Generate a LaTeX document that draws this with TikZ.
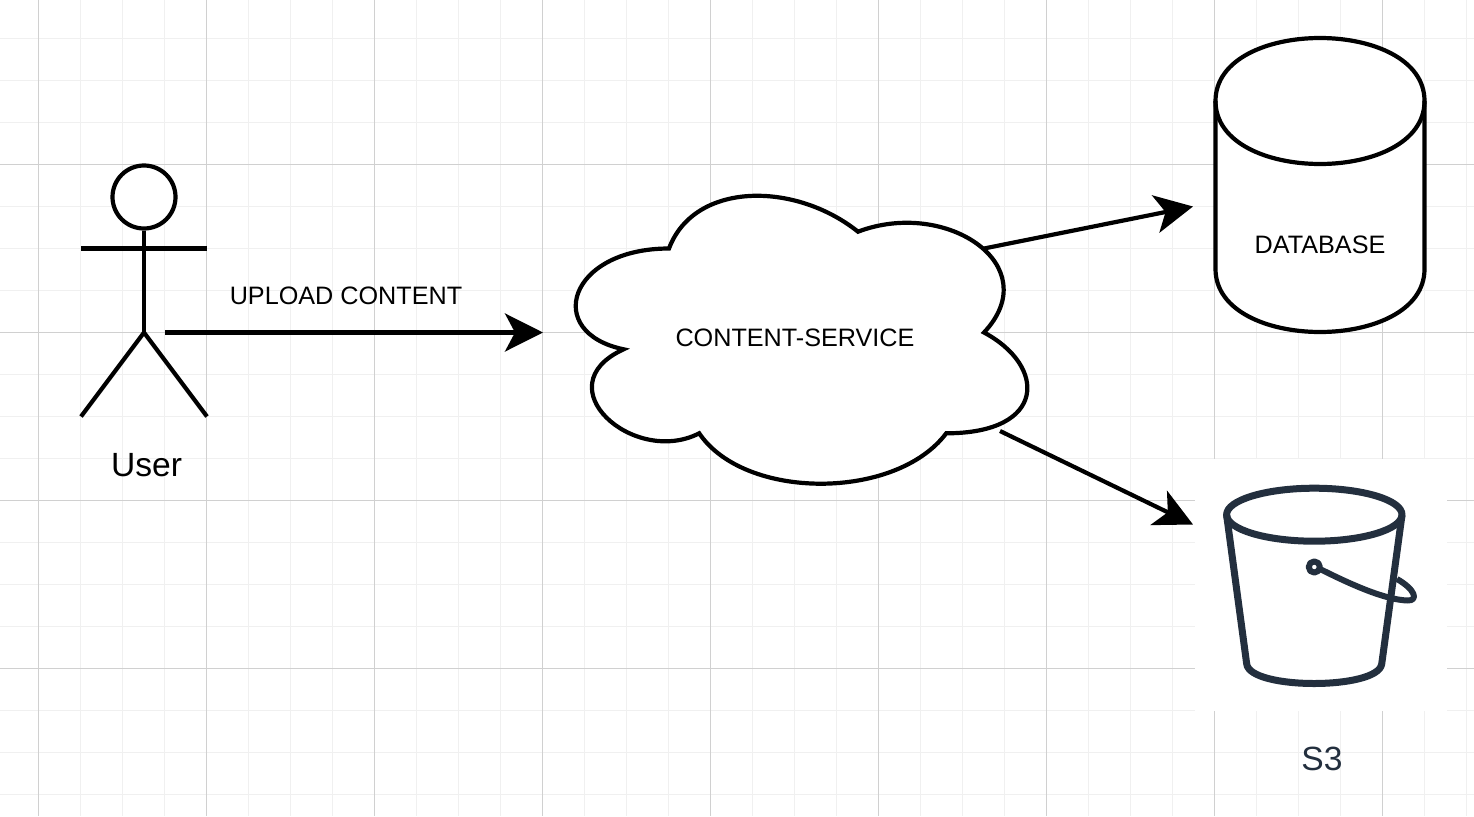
\documentclass[tikz,border=0pt]{standalone}
\usepackage{fontspec}
\setmainfont{Liberation Sans}
\usepackage{xcolor}
\usetikzlibrary{arrows.meta, positioning}
\definecolor{gridmajor}{HTML}{D0D0D0}
\definecolor{gridminor}{HTML}{F0F0F0}
\definecolor{awsink}{HTML}{232F3E}
\tikzset{
  minorline/.style={draw=gridminor, line width=1.4pt},
  majorline/.style={draw=gridmajor, line width=1.1pt},
  shapeline/.style={draw=black, line width=4.2pt, fill=white, line join=miter},
  limbline/.style={draw=black, line width=4.2pt},
  bucketline/.style={draw=awsink, line width=7pt, line join=round},
  flow/.style={-{Stealth[length=38pt,width=38pt,inset=10pt]}, draw=black, line width=4.2pt},
  label/.style={font=\fontsize{25.2pt}{30pt}\selectfont, inner sep=0pt, align=center},
  biglabel/.style={font=\fontsize{33.6pt}{40pt}\selectfont, inner sep=0pt, align=center},
}

\begin{document}
\begin{tikzpicture}[x=1pt, y=-1pt]
  \useasboundingbox (0,0) rectangle (1474,816);
  \fill[white] (0,0) rectangle (1474,816);

  % grid
  \foreach \k in {0,...,34}
    \draw[minorline] ({38.5+42*\k},0) -- ({38.5+42*\k},816);
  \foreach \k in {0,...,18}
    \draw[minorline] (0,{38.5+42*\k}) -- (1474,{38.5+42*\k});
  \foreach \k in {0,...,8}
    \draw[majorline] ({38.5+168*\k},0) -- ({38.5+168*\k},816);
  \foreach \k in {0,...,3}
    \draw[majorline] (0,{164.5+168*\k}) -- (1474,{164.5+168*\k});

  % user
  \node[circle, shapeline, minimum size=63pt, inner sep=0pt] (userhead) at (144,197) {};
  \node[minimum size=42pt, inner sep=0pt, outer sep=0pt] (user) at (144,332.5) {};
  \coordinate (armleft) at (81,248.5);
  \coordinate (armright) at (207,248.5);
  \coordinate (footleft) at (81,416.5);
  \coordinate (footright) at (207,416.5);
  \draw[limbline] (userhead.south) -- (user.center);
  \draw[limbline] (armleft) -- (armright);
  \draw[limbline] (footleft) -- (user.center) -- (footright);
  \node[biglabel] (username) at (146.5,464.8) {User};

  % content service
  \draw[shapeline] (669,248.5)
    .. controls (568.2,248.5) and (543,332.5) .. (623.6,349.3)
    .. controls (543,386.2) and (633.7,466.9) .. (699.2,433.3)
    .. controls (744.6,500.5) and (895.8,500.5) .. (946.2,433.3)
    .. controls (1047,433.3) and (1047,366.1) .. (984,332.5)
    .. controls (1047,265.3) and (946.2,198.1) .. (858,231.7)
    .. controls (795,181.3) and (694.2,181.3) .. (669,248.5) -- cycle;
  \node[label, minimum width=504pt, minimum height=336pt, outer sep=0pt,
        text height=28pt, text depth=0pt] (service) at (795,332.5) {CONTENT-SERVICE};

  % database
  \draw[shapeline] (1215.5,101) .. controls (1215.5,17) and (1424.5,17) .. (1424.5,101)
    -- (1424.5,269) .. controls (1424.5,353) and (1215.5,353) .. (1215.5,269) -- cycle;
  \draw[limbline] (1215.5,101) .. controls (1215.5,185) and (1424.5,185) .. (1424.5,101);
  \node[label] (database) at (1320,244.7) {DATABASE};

  % s3 bucket
  \fill[white] (1194.5,458.5) rectangle (1446.5,711);
  \draw[bucketline] (1314.3,514.7) ellipse [x radius=87.7, y radius=26.5];
  \draw[bucketline] (1226.6,515) -- (1246.7,664)
    .. controls (1250,690) and (1378,690) .. (1381.7,664) -- (1402,515);
  \draw[bucketline, line width=6pt] (1320,569) .. controls (1350,584) and (1385,600) .. (1408,600.5)
    .. controls (1418,600.5) and (1416,590) .. (1397,579);
  \draw[bucketline, line width=6pt] (1314.3,567) circle [radius=5.6];
  \node[biglabel, text=awsink] (s3) at (1322,759) {S3};

  % connectors
  \node[label] (upload) at (346,295.7) {UPLOAD CONTENT};
  \coordinate (serviceout) at (984,248.5);
  \coordinate (databasein) at (1193,206.5);
  \coordinate (servicedown) at (1000,431);
  \coordinate (s3in) at (1193,524.5);
  \draw[flow] (user.east) -- (service.west);
  \draw[flow] (serviceout) -- (databasein);
  \draw[flow] (servicedown) -- (s3in);
\end{tikzpicture}
\end{document}
